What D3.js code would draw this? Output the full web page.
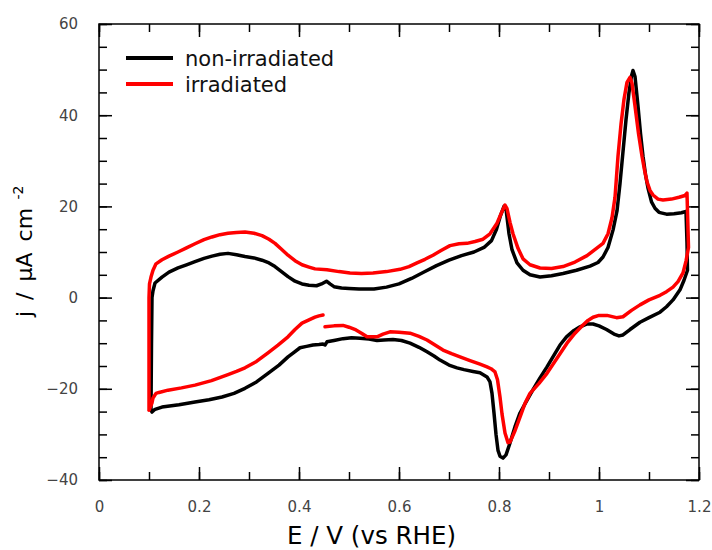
<!DOCTYPE html>
<html>
<head>
<meta charset="utf-8">
<script src="https://cdn.jsdelivr.net/npm/d3@7"></script>
<style>
  body { margin: 0; background: #fff; }
  svg { display: block; font-family: "DejaVu Sans", sans-serif; }
  .tick text { fill: #444; font-size: 15px; }
  .tick line { stroke: #000; stroke-width: 1.5; }
</style>
</head>
<body>
<svg id="chart" width="712" height="550"></svg>
<script>
// potential (V vs RHE) and current density (µA cm-2), anodic sweep then cathodic sweep
const blackE = [0.104,0.105,0.106,0.108,0.112,0.126,0.14,0.158,0.175,0.192,0.21,0.226,0.242,0.258,0.275,0.292,0.31,0.326,0.34,0.352,0.365,0.378,0.392,0.406,0.42,0.435,0.445,0.455,0.462,0.47,0.485,0.5,0.52,0.55,0.575,0.6,0.625,0.65,0.675,0.7,0.725,0.75,0.77,0.785,0.795,0.803,0.81,0.814,0.82,0.826,0.836,0.848,0.862,0.882,0.905,0.928,0.955,0.982,0.998,1.008,1.018,1.028,1.036,1.042,1.048,1.054,1.06,1.065,1.068,1.072,1.078,1.083,1.088,1.093,1.098,1.105,1.112,1.12,1.135,1.15,1.165,1.174,1.176,
  1.177,1.17,1.162,1.148,1.135,1.122,1.1,1.082,1.062,1.048,1.04,1.03,1.015,1.0,0.988,0.975,0.962,0.95,0.935,0.922,0.91,0.896,0.882,0.868,0.855,0.842,0.832,0.822,0.814,0.808,0.802,0.798,0.794,0.79,0.786,0.782,0.776,0.762,0.748,0.73,0.716,0.7,0.682,0.67,0.656,0.64,0.622,0.605,0.588,0.57,0.556,0.54,0.522,0.505,0.488,0.47,0.456,0.452,0.448,0.44,0.428,0.415,0.402,0.39,0.378,0.36,0.338,0.315,0.292,0.27,0.246,0.22,0.192,0.16,0.126,0.112,0.106,0.104];
const blackJ = [-24.5,-10,0,1.5,3.2,4.5,5.6,6.5,7.2,7.9,8.6,9.1,9.5,9.7,9.4,9,8.7,8.2,7.6,6.8,5.7,4.6,3.6,3,2.7,2.6,3,3.6,3,2.4,2.1,2,1.9,1.9,2.3,3,4.2,5.6,7,8.2,9.2,10,11,12.5,15,18,20,19.5,14,10.5,7.6,6,5,4.5,4.8,5.3,6,6.9,7.7,8.9,11,14.8,19,25,32,39,45,48.6,49.8,48.5,42,36,31,27,24,21,19.6,18.7,18.3,18.4,18.6,18.9,12,
  6,3.8,1.7,-0.5,-2,-3.2,-4.4,-5.4,-7,-8.2,-8.4,-8,-7,-6.2,-5.8,-5.8,-6.4,-7.2,-8.6,-10.4,-12.6,-15.2,-17.6,-20.2,-22.7,-25.3,-28.3,-31.9,-34.5,-35.2,-34.8,-33.5,-30,-25.3,-21,-18.5,-17.4,-16.5,-16.2,-15.8,-15.4,-14.8,-13.7,-12.8,-11.9,-10.9,-10,-9.4,-9.2,-9.3,-9.4,-9.1,-8.9,-8.8,-9,-9.4,-9.7,-10.4,-10.2,-10.3,-10.4,-10.7,-11,-12,-13,-14.8,-16.6,-18.5,-19.9,-21,-21.8,-22.4,-22.9,-23.5,-24,-24.5,-25.1,-24.5];

const redE = [0.1,0.1,0.1,0.101,0.104,0.108,0.114,0.126,0.14,0.158,0.175,0.192,0.21,0.226,0.242,0.258,0.275,0.292,0.31,0.326,0.34,0.352,0.365,0.378,0.392,0.406,0.42,0.432,0.456,0.48,0.502,0.525,0.548,0.575,0.602,0.62,0.636,0.652,0.668,0.685,0.702,0.72,0.736,0.752,0.768,0.782,0.796,0.805,0.812,0.816,0.822,0.828,0.838,0.848,0.862,0.882,0.905,0.928,0.952,0.976,0.995,1.008,1.018,1.026,1.032,1.038,1.044,1.05,1.056,1.062,1.066,1.072,1.079,1.086,1.091,1.096,1.102,1.108,1.118,1.128,1.145,1.16,1.172,1.176,1.178,
  1.179,1.174,1.168,1.158,1.148,1.135,1.122,1.1,1.082,1.065,1.048,1.035,1.016,1.0,0.988,0.978,0.968,0.952,0.936,0.916,0.896,0.88,0.862,0.852,0.842,0.832,0.822,0.818,0.812,0.806,0.802,0.797,0.792,0.784,0.776,0.762,0.742,0.722,0.705,0.688,0.672,0.656,0.64,0.622,0.6,0.582,0.568,0.556,0.536,0.525,0.514,0.5,0.488,0.47,0.452,0.45,
  0.448,0.44,0.432,0.42,0.406,0.392,0.378,0.358,0.338,0.315,0.292,0.275,0.258,0.225,0.192,0.165,0.138,0.12,0.114,0.108,0.106,0.102,0.1];
const redJ = [-24.7,-10,0,3,4.5,6,7.4,8.3,9.1,10,10.9,11.8,12.7,13.3,13.8,14.1,14.3,14.4,14.1,13.6,12.8,11.9,10.6,9.3,8.1,7.2,6.7,6.3,6.1,5.7,5.4,5.3,5.4,5.7,6.2,6.8,7.6,8.4,9.3,10.4,11.4,11.8,11.9,12.3,12.8,14,16.3,18.6,20.3,19.5,16.5,14,10.8,8.5,7.2,6.5,6.4,6.8,7.8,9.2,10.8,11.9,14,17.5,22,31,38,43.5,47.2,48.3,47,42,36,31,28,25.4,23.5,22.5,21.6,21.4,21.6,22,22.4,22.9,15,
  11,8,5.4,3.5,2.3,1.3,0.5,-0.5,-1.6,-2.8,-4.2,-4.4,-3.9,-3.9,-4.3,-5,-6,-7.8,-10,-13.3,-16.6,-18.8,-21,-23.2,-26.2,-29.2,-31.7,-31.8,-29.7,-25.5,-21.8,-18,-16.3,-15.6,-15.2,-14.6,-13.8,-13,-12.3,-11.5,-10.4,-9.3,-8.5,-7.8,-7.6,-7.5,-8,-8.6,-8.6,-7.8,-7.1,-6.5,-6.1,-6.2,-6.4,null,
  -3.8,-4,-4.3,-4.9,-5.6,-7,-8.6,-10.4,-12.1,-14,-15.4,-16.2,-16.9,-18.2,-19.2,-19.8,-20.3,-20.8,-21,-22,-23.1,-24.2,-24.7];

const seriesNames = ["non-irradiated", "irradiated"];
const seriesColors = ["#000000", "#ff0000"];

const xMajor = [0, 0.2, 0.4, 0.6, 0.8, 1, 1.2];
const xMinor = d3.range(0, 1.21, 0.1);
const yMajor = [-40, -20, 0, 20, 40, 60];
const yMinor = d3.range(-40, 61, 5);

const svg = d3.select("#chart");
const plotLeft = 99, plotRight = 699, plotTop = 24, plotBottom = 480;

const x = d3.scaleLinear().domain([0, 1.2]).range([plotLeft, plotRight]);
const y = d3.scaleLinear().domain([-40, 60]).range([plotBottom, plotTop]);

const xFmt = d => String(+d.toFixed(1));

// minor ticks
svg.append("g").attr("transform", `translate(0,${plotBottom})`)
  .call(d3.axisBottom(x).tickValues(xMinor).tickSize(-8).tickFormat("").tickSizeOuter(0));
svg.append("g").attr("transform", `translate(0,${plotTop})`)
  .call(d3.axisTop(x).tickValues(xMinor).tickSize(-8).tickFormat("").tickSizeOuter(0));
svg.append("g").attr("transform", `translate(${plotLeft},0)`)
  .call(d3.axisLeft(y).tickValues(yMinor).tickSize(-8).tickFormat("").tickSizeOuter(0));
svg.append("g").attr("transform", `translate(${plotRight},0)`)
  .call(d3.axisRight(y).tickValues(yMinor).tickSize(-8).tickFormat("").tickSizeOuter(0));

// major ticks
svg.append("g").attr("transform", `translate(0,${plotBottom})`)
  .call(d3.axisBottom(x).tickValues(xMajor).tickSize(-13).tickPadding(21).tickFormat(xFmt).tickSizeOuter(0));
svg.append("g").attr("transform", `translate(0,${plotTop})`)
  .call(d3.axisTop(x).tickValues(xMajor).tickSize(-13).tickFormat("").tickSizeOuter(0));
svg.append("g").attr("transform", `translate(${plotLeft},0)`)
  .call(d3.axisLeft(y).tickValues(yMajor).tickSize(-13).tickPadding(21).tickSizeOuter(0));
svg.append("g").attr("transform", `translate(${plotRight},0)`)
  .call(d3.axisRight(y).tickValues(yMajor).tickSize(-13).tickFormat("").tickSizeOuter(0));

svg.selectAll(".domain").remove();
svg.selectAll("g").attr("font-family", null).attr("font-size", null);

svg.append("rect")
  .attr("x", plotLeft).attr("y", plotTop)
  .attr("width", plotRight - plotLeft).attr("height", plotBottom - plotTop)
  .attr("fill", "none").attr("stroke", "#000").attr("stroke-width", 1.5);

const line = d3.line()
  .defined(d => d[1] != null)
  .x(d => x(d[0]))
  .y(d => y(d[1]));

const series = [
  d3.zip(blackE, blackJ),
  d3.zip(redE, redJ)
];

series.forEach((pts, i) => {
  svg.append("path")
    .datum(pts)
    .attr("fill", "none")
    .attr("stroke", seriesColors[i])
    .attr("stroke-width", 3.5)
    .attr("stroke-linejoin", "round")
    .attr("stroke-linecap", "round")
    .attr("d", line);
});

// legend
const legend = svg.append("g");
seriesNames.forEach((name, i) => {
  const ly = 58 + i * 26;
  legend.append("line")
    .attr("x1", 126).attr("x2", 173).attr("y1", ly).attr("y2", ly)
    .attr("stroke", seriesColors[i]).attr("stroke-width", 4);
  legend.append("text")
    .attr("x", 185).attr("y", ly + 8)
    .attr("font-size", "21px").attr("fill", "#111")
    .text(name);
});

// axis titles
svg.append("text")
  .attr("x", 287).attr("y", 544)
  .attr("font-size", "24.5px").attr("fill", "#000")
  .text("E / V (vs RHE)");

const yt = svg.append("text")
  .attr("transform", "translate(32,317) rotate(-90)")
  .attr("font-size", "22px").attr("fill", "#000")
  .attr("word-spacing", "4px");
yt.append("tspan").text("j / μA cm");
yt.append("tspan").attr("dy", -9).attr("font-size", "14px").text(" -2");
</script>
</body>
</html>
